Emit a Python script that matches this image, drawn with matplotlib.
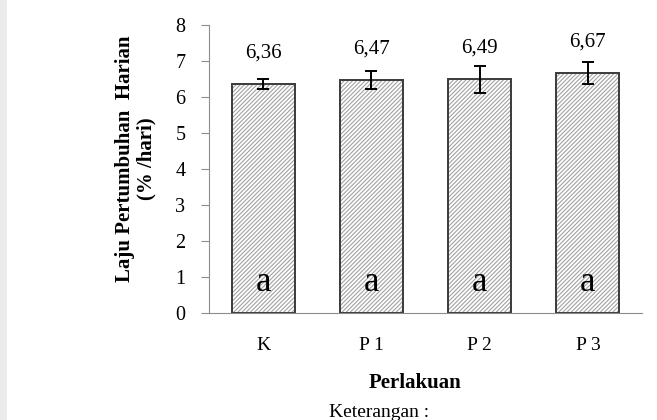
import numpy as np
import matplotlib
matplotlib.use("Agg")
import matplotlib.pyplot as plt
from matplotlib.patches import Rectangle

perlakuan = ["K", "P 1", "P 2", "P 3"]
laju = [6.36, 6.47, 6.49, 6.67]
galat = [0.13, 0.25, 0.38, 0.31]
notasi = ["a", "a", "a", "a"]
label_nilai = ["6,36", "6,47", "6,49", "6,67"]

plt.rcParams['font.family'] = ['Liberation Serif', 'DejaVu Serif']
plt.rcParams['hatch.linewidth'] = 0.8

fig = plt.figure(figsize=(6.57, 4.2), dpi=100)
# light grey strip on the left edge of the page scan
fig.patches.append(Rectangle((0, 0), 7 / 657, 1, transform=fig.transFigure,
                             facecolor="#ebebeb", edgecolor="none"))

ax = fig.add_axes([209 / 657, 107 / 420, 433 / 657, 288 / 420])
x = np.arange(len(perlakuan))

ax.bar(x, laju, width=0.58, color="white", edgecolor="#a2a2a2",
       hatch="////////", linewidth=0)
ax.bar(x, laju, width=0.58, fill=False, edgecolor="#3a3a3a", linewidth=1.4)
ax.errorbar(x, laju, yerr=galat, fmt="none", ecolor="black",
            elinewidth=1.4, capsize=4, capthick=1.4)

for i in range(len(x)):
    ax.text(x[i], laju[i] + 0.87, label_nilai[i], ha="center", va="center",
            fontsize=15)
    ax.text(x[i], 0.86, notasi[i], ha="center", va="center", fontsize=25)

ax.set_xlim(-0.5, len(x) - 0.5)
ax.set_ylim(0, 8)
ax.set_yticks(range(0, 9))
ax.set_xticks(x)
ax.set_xticklabels(perlakuan)

for s in ["top", "right"]:
    ax.spines[s].set_visible(False)
ax.spines["left"].set_color("#8c8c8c")
ax.spines["bottom"].set_color("#8c8c8c")
ax.tick_params(axis="y", direction="out", length=6, color="#8c8c8c",
               labelsize=14.5, pad=11)
ax.tick_params(axis="x", length=0, labelsize=14, pad=17)

fig.text(136 / 657, (420 - 159) / 420, "Laju Pertumbuhan  Harian\n(% /hari)",
         rotation=90, ha="center", va="center", fontsize=15,
         fontweight="bold", multialignment="center", linespacing=1.1)
fig.text(415 / 657, (420 - 383) / 420, "Perlakuan", ha="center",
         va="center", fontsize=15, fontweight="bold")
fig.text(329 / 657, (420 - 404) / 420, "Keterangan :", ha="left", va="top",
         fontsize=14)

fig.savefig("out.png", dpi=100)
